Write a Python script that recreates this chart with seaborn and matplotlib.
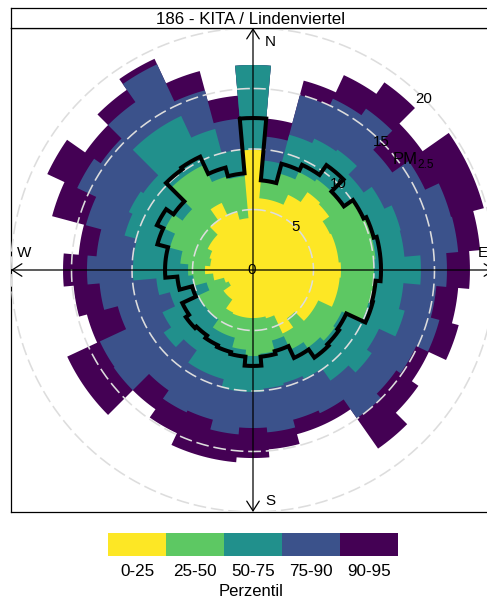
import numpy as np
import matplotlib
matplotlib.use("Agg")
import matplotlib.pyplot as plt
from matplotlib.colors import ListedColormap
import seaborn as sns

# wind direction bins, degrees clockwise from north
wd = np.arange(0, 360, 10)

# PM2.5 at each percentile per wind sector
p25 = [9.92, 5.95, 5.95, 6.86, 7.85, 7.69, 7.02, 7.11, 7.11, 7.27, 7.19, 7.19,
       5.95, 5.95, 4.88, 5.79, 4.13, 3.97, 3.97, 3.97, 3.97, 3.88, 2.98, 2.98,
       2.23, 2.48, 3.31, 3.97, 3.55, 3.72, 4.13, 4.13, 5.04, 6.12, 4.96, 4.30]
p50 = [9.92, 7.44, 8.26, 8.93, 9.17, 9.09, 10.08, 10.33, 10.17, 10.0, 10.08, 9.92,
       8.10, 8.26, 7.85, 7.27, 6.03, 6.94, 7.11, 6.61, 5.79, 5.79, 4.96, 4.96,
       4.96, 3.97, 4.96, 5.37, 6.03, 7.11, 8.02, 7.11, 9.59, 9.59, 8.02, 7.77]
p75 = [16.94, 9.09, 11.57, 11.98, 12.15, 11.16, 11.98, 12.64, 12.56, 13.88, 12.48, 12.98,
       11.49, 11.98, 11.16, 9.92, 9.67, 9.83, 10.08, 10.08, 9.34, 9.34, 8.10, 9.01,
       8.26, 7.11, 8.02, 9.92, 9.92, 10.99, 11.32, 11.07, 14.05, 14.05, 12.07, 10.0]
p90 = [16.94, 11.07, 14.96, 15.62, 16.28, 14.05, 15.70, 16.94, 17.02, 16.03, 15.21, 15.95,
       14.88, 14.46, 14.96, 13.06, 12.81, 13.47, 13.06, 13.64, 12.81, 12.98, 12.15, 14.05,
       13.97, 11.57, 12.73, 13.72, 12.98, 14.30, 16.03, 15.37, 16.94, 18.76, 15.37, 12.56]
p95 = [16.94, 12.56, 16.20, 17.77, 18.93, 17.11, 19.75, 19.75, 18.84, 17.93, 17.02, 17.60,
       16.03, 16.69, 18.02, 14.05, 14.05, 14.88, 15.54, 15.95, 15.95, 14.88, 14.05, 16.94,
       16.94, 14.21, 14.88, 15.70, 14.46, 17.19, 18.76, 16.94, 18.18, 19.26, 17.02, 14.46]
mean_pm = [12.56, 7.44, 9.09, 9.59, 10.58, 9.17, 10.08, 10.33, 10.58, 10.58, 10.17, 10.25,
           8.51, 8.68, 8.84, 8.02, 6.94, 7.19, 7.93, 7.19, 7.02, 6.86, 6.61, 6.78,
           6.45, 5.21, 6.28, 7.27, 7.27, 8.18, 8.76, 8.02, 10.17, 10.33, 8.76, 8.02]

percentile_labels = ["0-25", "25-50", "50-75", "75-90", "90-95"]
colors = ["#FDE725", "#5DC863", "#21908C", "#3B528B", "#440154"]
rings = [5, 10, 15, 20]


def rose_outline(radii):
    # stepped outline: one arc per wind sector
    xs, ys = [], []
    for d, r in zip(wd, radii):
        theta = np.radians(np.linspace(d - 5, d + 5, 9))
        xs.extend(r * np.sin(theta))
        ys.extend(r * np.cos(theta))
    xs.append(xs[0])
    ys.append(ys[0])
    return np.array(xs), np.array(ys)


sns.set_theme(style="white")
plt.rcParams["font.family"] = ["Liberation Sans", "DejaVu Sans"]

fig = plt.figure(figsize=(4.87, 5.98), dpi=100)
W, H = 487.0, 598.0

ax = fig.add_axes([11 / W, (H - 512) / H, 484 / W, 484 / H])
ax.set_xlim(-20, 20)
ax.set_ylim(-20, 20)
ax.set_xticks([])
ax.set_yticks([])
for s in ax.spines.values():
    s.set_color("black")
    s.set_linewidth(0.9)

# outermost percentile first so the inner ones sit on top
for radii, col in zip([p95, p90, p75, p50, p25], colors[::-1]):
    x, y = rose_outline(radii)
    ax.fill(x, y, color=col, lw=0, zorder=2)

# rings
for r in rings:
    t = np.radians(np.linspace(0, 360, 361))
    ax.plot(r * np.sin(t), r * np.cos(t), color="#DDDDDD", lw=1.15,
            dashes=(8, 3), zorder=3)

# mean line
x, y = rose_outline(mean_pm)
sns.lineplot(x=x, y=y, sort=False, estimator=None, color="black", lw=2.9,
             solid_joinstyle="miter", ax=ax, zorder=4)

# cross with arrow heads
arrow = dict(arrowstyle="<->,head_length=0.7,head_width=0.45", mutation_scale=10,
             lw=0.9, color="black", shrinkA=0, shrinkB=0)
ax.annotate("", xy=(0, 20), xytext=(0, -20), arrowprops=arrow, zorder=5)
ax.annotate("", xy=(-20, 0), xytext=(20, 0), arrowprops=arrow, zorder=5)

ax.text(1.4, 18.87, "N", fontsize=11, ha="center", va="center", color="black", zorder=6)
ax.text(1.4, -19.1, "S", fontsize=11, ha="center", va="center", color="black", zorder=6)
ax.text(-18.9, 1.4, "W", fontsize=11, ha="center", va="center", color="black", zorder=6)
ax.text(19.0, 1.4, "E", fontsize=11, ha="center", va="center", color="black", zorder=6)

for r in rings:
    p = r * np.sin(np.radians(45))
    ax.text(p, p, str(r), fontsize=10.8, ha="center", va="center", color="black", zorder=6)
ax.text(-0.15, 0, "0", fontsize=10.8, ha="center", va="center", color="black", zorder=6)
ax.text(11.5, 9.1, "PM", fontsize=12, ha="left", va="center", color="black", zorder=6)
ax.text(13.55, 8.65, "2.5", fontsize=8.6, ha="left", va="center", color="black", zorder=6)

# title strip
ax_title = fig.add_axes([11 / W, (H - 28) / H, 484 / W, 20 / H])
ax_title.set_xticks([])
ax_title.set_yticks([])
for s in ax_title.spines.values():
    s.set_color("black")
    s.set_linewidth(0.9)
fig.text(250.5 / W, (H - 19) / H, "186 - KITA / Lindenviertel", fontsize=12.15,
         ha="center", va="center", color="black")

# percentile key
ax_key = fig.add_axes([108 / W, (H - 556) / H, 290 / W, 23 / H])
sns.heatmap(np.arange(5).reshape(1, 5), cmap=ListedColormap(colors), cbar=False,
            xticklabels=percentile_labels, yticklabels=False, ax=ax_key)
ax_key.tick_params(axis="x", length=0, labelsize=12.3, pad=6, labelcolor="black", rotation=0)
ax_key.set_xlabel("Perzentil", fontsize=12, color="black", labelpad=3.5, x=0.493)

fig.savefig("out.png", dpi=100)
